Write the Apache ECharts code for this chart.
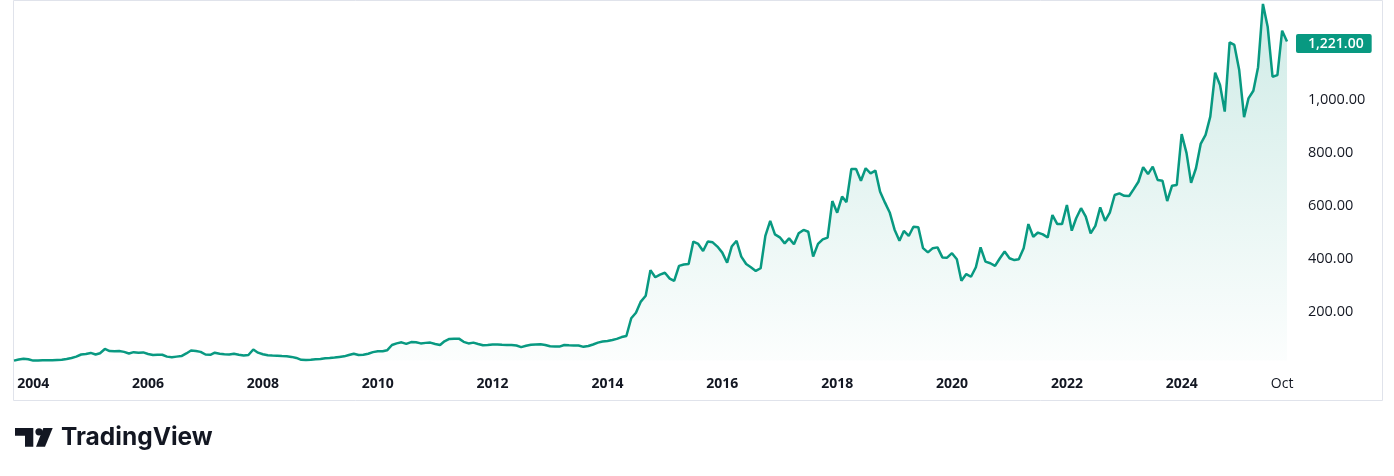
<!DOCTYPE html>
<html><head><meta charset="utf-8">
<script src="https://cdn.jsdelivr.net/npm/echarts@6/dist/echarts.min.js"></script>
<style>html,body{margin:0;padding:0;background:#fff}#c{width:1394px;height:476px}</style>
</head><body><div id="c"></div>
<script>
// Monthly closes, first month Sep 2003
const startYear = 2003;
const startMonth = 9;
const closes = [
  15,19,22,20,15,15,16,16,16,17,18,21,
  25,30,38,40,44,38,43,59,51,50,51,48,
  42,47,45,46,40,36,37,37,30,28,30,32,
  42,53,51,48,38,37,45,41,39,38,41,37,
  34,36,57,45,39,35,34,33,32,31,29,25,
  18,17,18,20,21,24,25,27,29,31,36,41,
  36,37,41,47,50,50,54,74,80,84,78,85,
  84,80,82,83,78,74,88,97,98,98,86,80,
  83,78,73,74,76,76,75,74,74,72,66,71,
  75,76,77,74,69,68,68,74,73,72,72,67,
  70,76,83,87,89,93,97,104,108,175,196,238,
  260,357,330,340,347,325,316,373,378,380,465,456,
  429,465,462,446,423,385,446,468,408,380,368,354,
  364,486,543,492,481,458,477,455,496,509,502,408,
  456,473,480,618,574,635,614,739,739,695,742,723,
  733,653,612,575,510,468,505,486,521,519,440,424,
  440,443,405,404,421,398,317,342,332,368,443,389,
  383,373,402,427,402,395,398,440,531,483,499,492,
  480,565,531,531,603,506,553,591,559,496,524,594,
  543,574,641,647,638,637,662,691,746,720,748,698,
  695,618,676,679,871,799,687,742,834,868,937,1103,
  1057,956,1218,1208,1113,935,1006,1035,1124,1363,1277,1088,
  1094,1262,1221
];
const tickDates = ['2004-01-01','2006-01-01','2008-01-01','2010-01-01','2012-01-01','2014-01-01',
                   '2016-01-01','2018-01-01','2020-01-01','2022-01-01','2024-01-01','2025-10-01'];
const tickLabels = ['2004','2006','2008','2010','2012','2014','2016','2018','2020','2022','2024','Oct'];
const priceTicks = [200, 400, 600, 800, 1000];

const F = 'Open Sans';
const TEAL = '#089981';
const data = closes.map((v, i) => [Date.UTC(startYear, startMonth - 1 + i, 1), v]);
const tickTs = tickDates.map(d => Date.parse(d + 'T00:00:00Z'));
const fmt = v => Number(v).toLocaleString('en-US', {minimumFractionDigits: 2, maximumFractionDigits: 2});

const chart = echarts.init(document.getElementById('c'), null, {renderer: 'canvas'});
chart.setOption({
  animation: false,
  backgroundColor: '#ffffff',
  grid: {left: 14, right: 107, top: 2.1, bottom: 115.4},
  xAxis: {
    type: 'value', min: 'dataMin', max: 'dataMax', scale: true,
    axisLine: {show: false}, axisTick: {show: false}, splitLine: {show: false},
    axisLabel: {
      customValues: tickTs, margin: 16, showMinLabel: true, showMaxLabel: true,
      formatter: v => {
        const k = tickTs.indexOf(v);
        const s = k >= 0 ? tickLabels[k] : '';
        return /^\d+$/.test(s) ? '{y|' + s + '}' : '{m|' + s + '}';
      },
      rich: {
        y: {fontWeight: 'bold', fontSize: 14, fontFamily: F, color: '#131722'},
        m: {fontSize: 14, fontFamily: F, color: '#131722'}
      }
    }
  },
  yAxis: {
    type: 'value', position: 'right', min: 15, max: 1370,
    axisLine: {show: false}, axisTick: {show: false}, splitLine: {show: false},
    axisLabel: {customValues: priceTicks, formatter: v => fmt(v), margin: 21, align: 'left',
      fontSize: 14.5, fontFamily: F, color: '#131722'}
  },
  series: [{
    type: 'line', data: data, showSymbol: false, clip: false,
    lineStyle: {color: TEAL, width: 2.5}, itemStyle: {color: TEAL},
    areaStyle: {color: {type: 'linear', x: 0, y: 0, x2: 0, y2: 360, global: true,
      colorStops: [{offset: 0, color: 'rgba(8,153,129,0.28)'}, {offset: 1, color: 'rgba(8,153,129,0.02)'}]}},
    endLabel: {show: true, formatter: p => fmt(p.value[1]), distance: 9, offset: [0, 2],
      backgroundColor: TEAL, color: '#ffffff', fontSize: 14, fontWeight: 600, lineHeight: 15,
      padding: [2, 8, 2, 12], borderRadius: 2, fontFamily: F}
  }],
  graphic: [
    {type: 'rect', silent: true, z: -1, shape: {x: 13.5, y: 0.5, width: 1369, height: 400},
      style: {fill: 'none', stroke: '#e0e3eb', lineWidth: 1}},
    {type: 'polygon', shape: {points: [[15, 428], [33.3, 428], [33.3, 446.7], [25, 446.7], [25, 435.7], [15, 435.7]]},
      style: {fill: '#131722'}},
    {type: 'circle', shape: {cx: 39, cy: 431.8, r: 3.6}, style: {fill: '#131722'}},
    {type: 'polygon', shape: {points: [[43.3, 428], [52.7, 428], [45, 446.7], [36, 446.7]]},
      style: {fill: '#131722'}},
    {type: 'text', x: 61, y: 438, style: {text: 'TradingView', fontFamily: 'Inter', fontWeight: 'bold',
      fontSize: 24.5, fill: '#131722', verticalAlign: 'middle', align: 'left'}}
  ]
});
</script>
</body></html>
